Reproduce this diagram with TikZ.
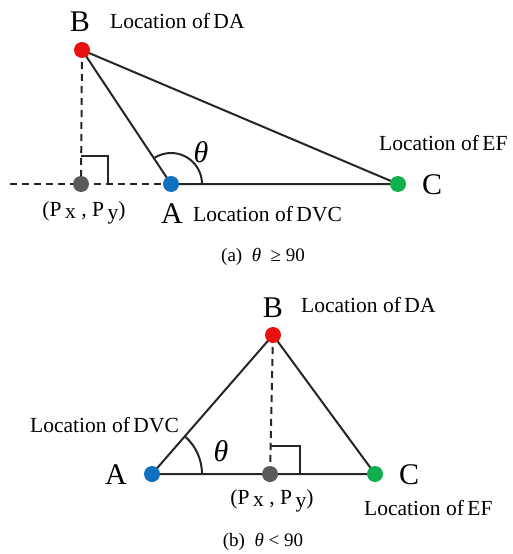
\documentclass[tikz,border=0pt]{standalone}
\usepackage{fontspec}
\setmainfont{Liberation Serif}
\definecolor{dred}{RGB}{232,16,16}
\definecolor{dblue}{RGB}{16,112,192}
\definecolor{dgreen}{RGB}{16,176,80}
\definecolor{dgrey}{RGB}{90,90,90}
\definecolor{lin}{RGB}{38,38,38}
\begin{document}
\begin{tikzpicture}[x=1pt,y=-1pt,
  dot/.style={circle,fill=#1,inner sep=0pt,minimum size=16pt},
  edge/.style={draw=lin,line width=2pt},
  dash line/.style={draw=lin,line width=2pt,dash pattern=on 7pt off 5pt},
  big/.style={font=\fontsize{30}{30}\selectfont,inner sep=0pt},
  lab/.style={font=\fontsize{21.5}{21.5}\selectfont,inner sep=0pt},
  captext/.style={font=\fontsize{19}{19}\selectfont,inner sep=0pt},
  ang/.style={font=\fontsize{30}{30}\selectfont\itshape,inner sep=0pt}]
\useasboundingbox (0,0) rectangle (512,554);
% ---------- (a) ----------
\coordinate (aB) at (82,50);
\coordinate (aP) at (81,184);
\coordinate (aA) at (171,184);
\coordinate (aC) at (398,184);
\coordinate (aL) at (10,184);
\draw[dash line] (aL) -- (aA);
\draw[dash line] (aB) -- (aP);
\draw[edge] (aA) -- (aB) -- (aC) -- (aA);
\draw[edge] (81,156) -- (108,156) -- (108,184);
\draw[edge] ([xshift=31pt]aA) arc[start angle=0,end angle=123.6,radius=31pt];
\node[dot=dred] (nB1) at (aB) {};
\node[dot=dgrey] (nP1) at (aP) {};
\node[dot=dblue] (nA1) at (aA) {};
\node[dot=dgreen] (nC1) at (aC) {};
\node[big] (tB1) at (80,22) {B};
\node[lab,anchor=west] (tDA1) at (110,21) {Location of\,DA};
\node[lab,anchor=west] (tEF1) at (379,143) {Location of\,EF};
\node[big] (tC1) at (432,185) {C};
\node[lab] (tP1) at (84,213) {(P\,\raisebox{-2pt}{x} , P\,\raisebox{-3pt}{y})};
\node[big] (tA1) at (172,214) {A};
\node[lab,anchor=west] (tDVC1) at (193,214) {Location of\,DVC};
\node[ang] (th1) at (201,152) {θ};
\node[captext] (ca) at (263,257) {(a)\ \ \textit{θ}\ \ ≥\ 90};
% ---------- (b) ----------
\coordinate (bB) at (273,335);
\coordinate (bP) at (270,474);
\coordinate (bA) at (152,474);
\coordinate (bC) at (375,474);
\draw[dash line] (bB) -- (bP);
\draw[edge] (bA) -- (bB) -- (bC) -- (bA);
\draw[edge] (270,446) -- (300,446) -- (300,474);
\draw[edge] ([xshift=50pt]bA) arc[start angle=0,end angle=49,radius=50pt];
\node[dot=dred] (nB2) at (bB) {};
\node[dot=dgrey] (nP2) at (bP) {};
\node[dot=dblue] (nA2) at (bA) {};
\node[dot=dgreen] (nC2) at (bC) {};
\node[big] (tB2) at (273,308) {B};
\node[lab,anchor=west] (tDA2) at (301,305) {Location of\,DA};
\node[lab,anchor=west] (tDVC2) at (30,425) {Location of\,DVC};
\node[ang] (th2) at (221,451) {θ};
\node[big] (tA2) at (116,475) {A};
\node[big] (tC2) at (409,475) {C};
\node[lab] (tP2) at (272,501) {(P\,\raisebox{-2pt}{x} , P\,\raisebox{-3pt}{y})};
\node[lab,anchor=west] (tEF2) at (364,508) {Location of\,EF};
\node[captext] (cb) at (263,542) {(b)\ \ \textit{θ}\ <\ 90};
\end{tikzpicture}
\end{document}
